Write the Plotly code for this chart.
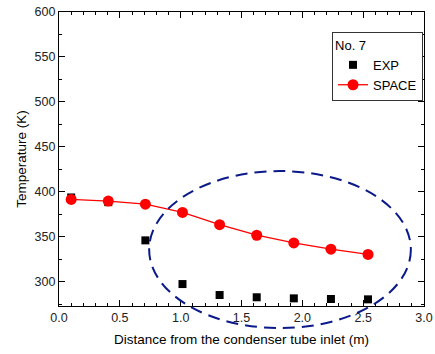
import plotly.graph_objects as go

distance = [0.1, 0.405, 0.71, 1.015, 1.32, 1.625, 1.93, 2.235, 2.54]
exp_temp = [393.7, 388.5, 346.0, 297.4, 285.2, 282.7, 281.5, 280.8, 280.4]
space_temp = [391.5, 389.7, 386.3, 377.1, 363.5, 351.7, 343.2, 336.2, 330.3]

FONT = "Liberation Sans, Arial, sans-serif"

fig = go.Figure()
fig.add_trace(go.Scatter(
    x=distance, y=exp_temp, mode="markers", name="EXP",
    marker=dict(symbol="square", size=8, color="black"),
    cliponaxis=False,
))
fig.add_trace(go.Scatter(
    x=distance, y=space_temp, mode="lines+markers", name="SPACE",
    line=dict(color="red", width=1.3),
    marker=dict(symbol="circle", size=11, color="red"),
    cliponaxis=False,
))

# dashed ellipse highlighting the divergence region
fig.add_shape(type="circle", xref="paper", yref="paper",
              x0=0.247, x1=0.964, y0=-0.075, y1=0.459,
              line=dict(color="#0a1a8a", width=2, dash="12px,7px"),
              layer="above")

axis_common = dict(
    showline=True, linecolor="black", linewidth=1.3, mirror="ticks",
    ticks="inside", ticklen=6, tickwidth=1, tickcolor="black",
    showgrid=False, zeroline=False, automargin=False,
    tickfont=dict(family=FONT, size=12.5, color="#222"),
)

fig.update_xaxes(range=[0, 3], dtick=0.5, tickformat=".1f",
                 minor=dict(dtick=0.1, ticks="inside", ticklen=3, tickcolor="black"),
                 title=dict(text="Distance from the condenser tube inlet (m)",
                            font=dict(family=FONT, size=13.5, color="black"), standoff=10),
                 **axis_common)
fig.update_yaxes(range=[273, 600], dtick=50,
                 minor=dict(dtick=25, ticks="inside", ticklen=3, tickcolor="black"),
                 title=dict(text="Temperature (K)",
                            font=dict(family=FONT, size=13.5, color="black"), standoff=4),
                 **axis_common)

fig.update_layout(
    width=435, height=354,
    margin=dict(l=59, r=11, t=12, b=48, autoexpand=False),
    plot_bgcolor="white", paper_bgcolor="white",
    font=dict(family=FONT, size=12.5, color="black"),
    showlegend=True,
    legend=dict(x=0.748, y=0.932, xanchor="left", yanchor="top",
                bgcolor="white", bordercolor="#333", borderwidth=1,
                title=dict(text="No. 7", font=dict(family=FONT, size=13)),
                font=dict(family=FONT, size=13),
                tracegroupgap=0, itemwidth=30),
)

fig.write_html("out.html", config={"displayModeBar": False},
               post_script="document.body.style.margin='0px';document.body.style.overflow='hidden';")
